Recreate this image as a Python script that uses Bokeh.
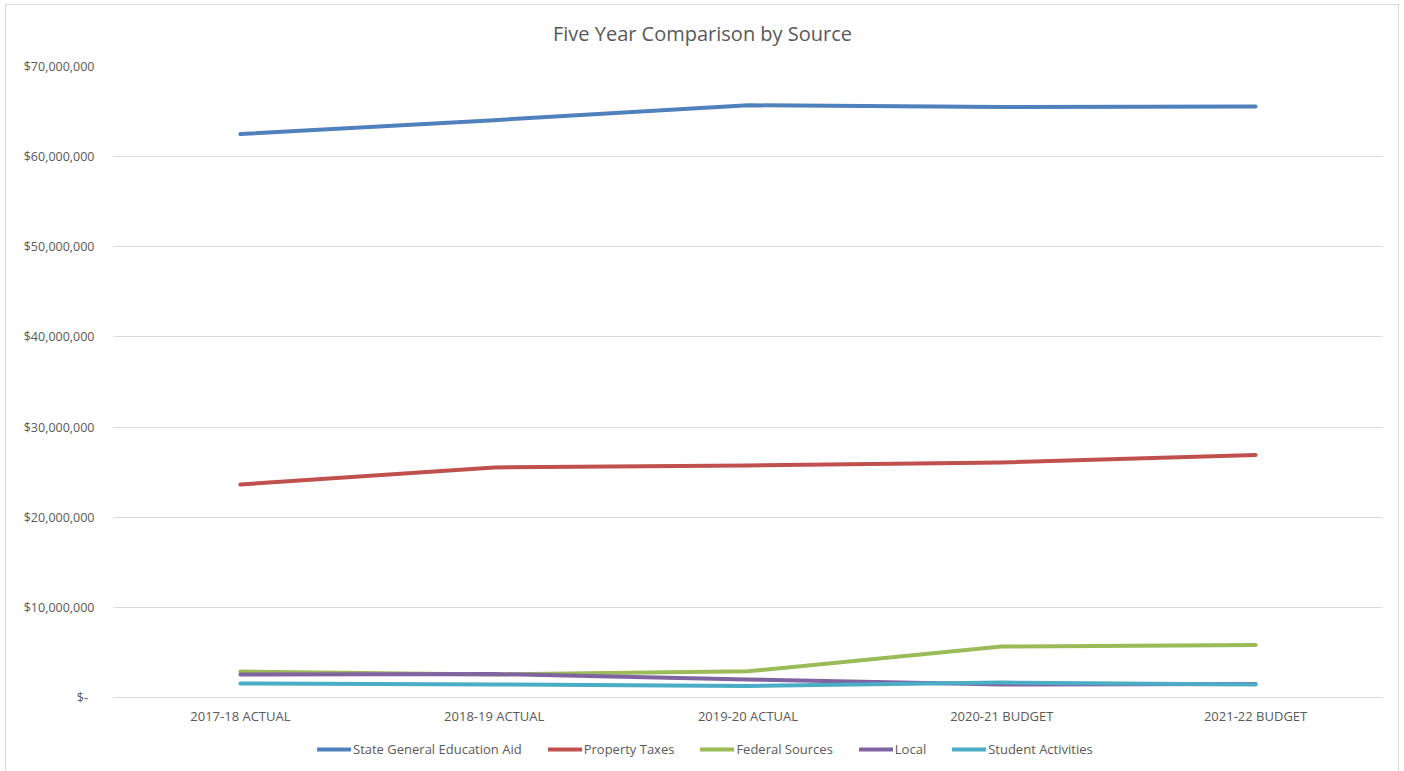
from bokeh.plotting import figure
from bokeh.layouts import column
from bokeh.models import FactorRange, Range1d, FixedTicker, Legend, LegendItem
from bokeh.core.properties import value
from bokeh.embed import file_html
from bokeh.resources import INLINE

# Fiscal years and revenue by source (dollars)
years = ["2017-18 ACTUAL", "2018-19 ACTUAL", "2019-20 ACTUAL", "2020-21 BUDGET", "2021-22 BUDGET"]
state_aid = [62500000, 64050000, 65700000, 65500000, 65560000]
property_taxes = [23630000, 25520000, 25740000, 26070000, 26900000]
federal = [2880000, 2550000, 2900000, 5660000, 5820000]
local = [2550000, 2600000, 2000000, 1440000, 1500000]
student_activities = [1550000, 1440000, 1280000, 1660000, 1440000]

series_names = ["State General Education Aid", "Property Taxes", "Federal Sources", "Local", "Student Activities"]
series_values = [state_aid, property_taxes, federal, local, student_activities]
colors = ["#4f81bd", "#c0504d", "#9bbb59", "#8064a2", "#4bacc6"]

y_ticks = [0, 10000000, 20000000, 30000000, 40000000, 50000000, 60000000, 70000000]
y_tick_labels = ["$-\u00a0\u00a0", "$10,000,000", "$20,000,000", "$30,000,000", "$40,000,000",
                 "$50,000,000", "$60,000,000", "$70,000,000"]

chart_title = "Five Year Comparison by Source"

FONT = "Open Sans"
TEXT = "#595959"
W = 1392
LEFT, RIGHT = 107, 16  # borders around the plotting frame


def bare(fig):
    fig.axis.visible = False
    fig.grid.visible = False
    fig.outline_line_color = None
    fig.border_fill_color = "white"


# Title strip (its frame lines up with the chart frame, so map it in canvas pixels)
head = figure(width=W, height=51, x_range=Range1d(LEFT, W - RIGHT), y_range=Range1d(0, 51),
              output_backend="svg", toolbar_location=None, min_border=0)
bare(head)
head.text(x=[W / 2], y=[23], text=[chart_title], text_align="center", text_baseline="middle",
          text_font=value(FONT), text_font_size="20px", text_color=TEXT)

# Main line chart
p = figure(
    x_range=FactorRange(*years, range_padding=0),
    y_range=Range1d(0, 70000000),
    width=W, height=679,
    output_backend="svg", toolbar_location=None,
    min_border_left=LEFT, min_border_right=RIGHT, min_border_top=10, min_border_bottom=38,
)
p.border_fill_color = "white"
p.outline_line_color = None

for vals, c in zip(series_values, colors):
    p.line(years, vals, line_color=c, line_width=4, line_cap="round", line_join="round")

p.yaxis.ticker = FixedTicker(ticks=y_ticks)
p.yaxis.major_label_overrides = {t: s for t, s in zip(y_ticks, y_tick_labels)}
p.yaxis.axis_line_color = None
p.yaxis.major_tick_line_color = None
p.yaxis.minor_tick_line_color = None
p.yaxis.major_label_text_font = FONT
p.yaxis.major_label_text_font_size = "12.5px"
p.yaxis.major_label_text_color = TEXT
p.yaxis.major_label_standoff = 13

p.xaxis.axis_line_color = "#d9d9d9"
p.xaxis.axis_line_width = 1
p.xaxis.major_tick_line_color = None
p.xaxis.minor_tick_line_color = None
p.xaxis.major_label_text_font = FONT
p.xaxis.major_label_text_font_size = "13px"
p.xaxis.major_label_text_color = TEXT
p.xaxis.major_label_standoff = 3

p.xgrid.grid_line_color = None
p.ygrid.grid_line_color = "#d9d9d9"
p.ygrid.grid_line_width = 1

# Legend strip underneath the chart: same series, kept outside the visible range
leg = figure(
    x_range=FactorRange(*years, range_padding=0),
    y_range=Range1d(-2, -1),
    width=W, height=36,
    output_backend="svg", toolbar_location=None,
    min_border=0,
)
bare(leg)

items = []
for name, vals, c in zip(series_names, series_values, colors):
    r = leg.line(years, vals, line_color=c, line_width=4, line_cap="round")
    items.append(LegendItem(label=name, renderers=[r]))

legend = Legend(
    items=items,
    orientation="horizontal",
    location=(204, 13),
    border_line_color=None,
    background_fill_alpha=0,
    label_text_font=FONT,
    label_text_font_size="13px",
    label_text_color=TEXT,
    glyph_width=34,
    glyph_height=14,
    label_standoff=2,
    spacing=26,
    padding=2,
    margin=0,
)
leg.add_layout(legend, "center")

layout = column(head, p, leg, spacing=0,
                styles={"margin-left": "6px", "margin-top": "5px",
                        "outline": "1px solid #d9d9d9"})

open("out.html", "w").write(file_html(layout, INLINE))
